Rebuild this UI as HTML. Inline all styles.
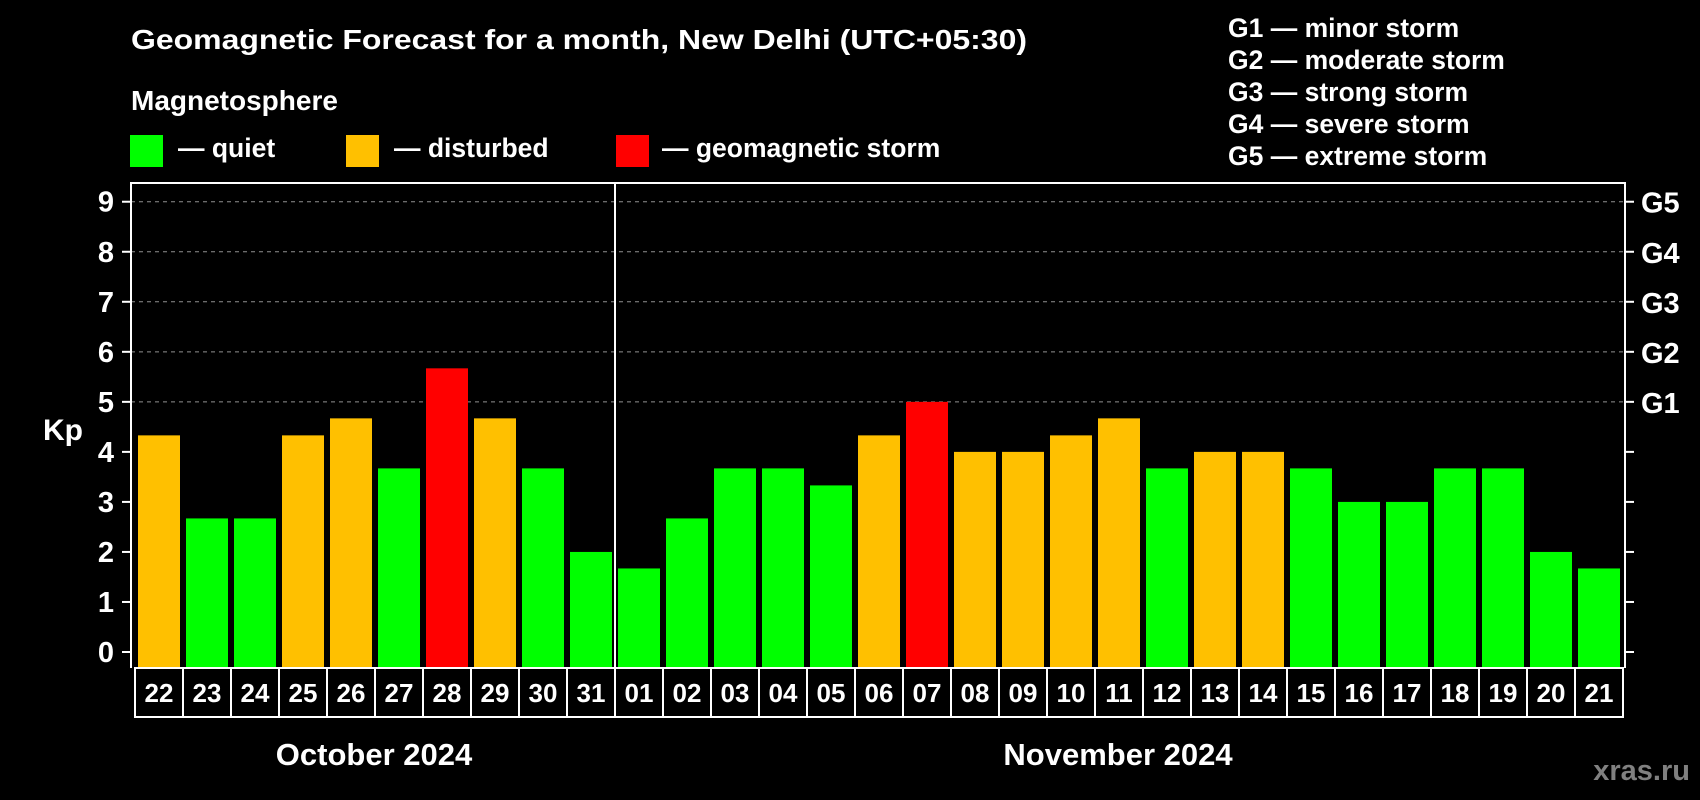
<!DOCTYPE html>
<html><head><meta charset="utf-8"><style>
html,body{margin:0;padding:0;background:#000;}
svg{display:block;font-family:"Liberation Sans",Arial,sans-serif;font-weight:bold;}
</style></head><body>
<svg id="chart" width="1700" height="800" viewBox="0 0 1700 800" xmlns="http://www.w3.org/2000/svg">
<rect width="1700" height="800" fill="#000"/>
<text x="131" y="49" fill="#fff" font-size="28" textLength="896" lengthAdjust="spacingAndGlyphs">Geomagnetic Forecast for a month, New Delhi (UTC+05:30)</text>
<text x="131" y="110" fill="#fff" font-size="28">Magnetosphere</text>
<rect x="130" y="135" width="33" height="32" fill="#00ff00"/>
<text x="178" y="157" fill="#fff" font-size="26.5">— quiet</text>
<rect x="346" y="135" width="33" height="32" fill="#ffc000"/>
<text x="394" y="157" fill="#fff" font-size="26.5">— disturbed</text>
<rect x="616" y="135" width="33" height="32" fill="#ff0000"/>
<text x="662" y="157" fill="#fff" font-size="26.5">— geomagnetic storm</text>
<g fill="#fff" font-size="26.5">
<text x="1228" y="37">G1 — minor storm</text>
<text x="1228" y="69">G2 — moderate storm</text>
<text x="1228" y="101">G3 — strong storm</text>
<text x="1228" y="133">G4 — severe storm</text>
<text x="1228" y="165">G5 — extreme storm</text>
</g>
<text x="43" y="440" fill="#fff" font-size="30">Kp</text>
<g id="grid"></g>
<g id="bars"></g>
<g id="axes"></g>
<text x="374" y="765" fill="#fff" font-size="31" text-anchor="middle">October 2024</text>
<text x="1118" y="765" fill="#fff" font-size="31" text-anchor="middle">November 2024</text>
<text x="1690" y="780" fill="#808080" font-size="29" text-anchor="end">xras.ru</text>
</svg>
<script>
const days = ["22","23","24","25","26","27","28","29","30","31","01","02","03","04","05","06","07","08","09","10","11","12","13","14","15","16","17","18","19","20","21"];
const kpValues = [4.33,2.67,2.67,4.33,4.67,3.67,5.67,4.67,3.67,2,1.67,2.67,3.67,3.67,3.33,4.33,5,4,4,4.33,4.67,3.67,4,4,3.67,3,3,3.67,3.67,2,1.67];
const yTicks = [0,1,2,3,4,5,6,7,8,9];
const gLabels = ["G1","G2","G3","G4","G5"];
const gLevels = [5,6,7,8,9];
const monthSplitIndex = 10;

const NS = "http://www.w3.org/2000/svg";
const L = 131, R = 1625, T = 183, B = 668, Y0 = 652, UNIT = 50.03;
const CELL = 48, CELL0 = 135;
function yScale(v){ return Y0 - v*UNIT; }
function xSlot(i){ return CELL0 + i*CELL; }
function colorFor(v){ return v >= 5 ? "#ff0000" : (v >= 4 ? "#ffc000" : "#00ff00"); }
function mk(tag, attrs){ const e = document.createElementNS(NS, tag); for (const k in attrs) e.setAttribute(k, attrs[k]); return e; }

const grid = document.getElementById("grid");
gLevels.forEach((lv) => {
  const ln = mk("line", {x1:L, x2:R, y1:yScale(lv), y2:yScale(lv), stroke:"#909090", "stroke-width":1, "stroke-dasharray":"4,4"});
  
  
  grid.appendChild(ln);
});

const bars = document.getElementById("bars");
kpValues.forEach((v, i) => {
  const y = yScale(v);
  const r = mk("rect", {x:xSlot(i)+3, y:y, width:42, height:B - y, fill:colorFor(v)});
  
  
  bars.appendChild(r);
});

const axes = document.getElementById("axes");
const frame = mk("path", {d:`M${L},${B} L${L},${T} L${R},${T} L${R},${B}`, fill:"none", stroke:"#fff", "stroke-width":2});


axes.appendChild(frame);
const split = mk("line", {x1:xSlot(monthSplitIndex), x2:xSlot(monthSplitIndex), y1:T, y2:B, stroke:"#fff", "stroke-width":2});


axes.appendChild(split);

yTicks.forEach((t) => {
  const y = yScale(t);
  const tk = mk("line", {x1:122, x2:L, y1:y, y2:y, stroke:"#fff", "stroke-width":2});
  
  
  axes.appendChild(tk);
  const tx = mk("text", {x:114, y:y+10, fill:"#fff", "font-size":29, "text-anchor":"end"});
  tx.textContent = t;
  
  
  axes.appendChild(tx);
  const rt = mk("line", {x1:R, x2:1634, y1:y, y2:y, stroke:"#fff", "stroke-width":2});
  
  
  axes.appendChild(rt);
});
gLevels.forEach((lv, i) => {
  const tx = mk("text", {x:1641, y:yScale(lv)+11, fill:"#fff", "font-size":29});
  tx.textContent = gLabels[i];
  
  
  axes.appendChild(tx);
});

days.forEach((d, i) => {
  const c = mk("rect", {x:xSlot(i), y:B, width:CELL, height:49, fill:"#000", stroke:"#fff", "stroke-width":2});
  
  
  axes.appendChild(c);
  const t = mk("text", {x:xSlot(i)+CELL/2, y:B+34, fill:"#fff", "font-size":26, "text-anchor":"middle"});
  t.textContent = d;
  
  
  axes.appendChild(t);
});
</script>
</body></html>
